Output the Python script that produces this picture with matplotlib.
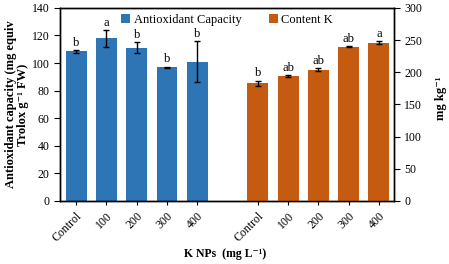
import numpy as np
import matplotlib.pyplot as plt

plt.rcParams['font.family'] = ['Liberation Serif', 'DejaVu Serif']

# --- Data ---
doses = ["Control", "100", "200", "300", "400"]
antiox = [108.5, 118, 111, 97, 101]
antiox_err = [1, 6, 4, 0.5, 15]
antiox_letters = ["b", "a", "b", "b", "b"]
potassium = [183, 194, 204, 240, 246]
potassium_err = [4, 2, 2, 1, 2]
k_letters = ["b", "ab", "ab", "ab", "a"]

blue = "#2E75B6"
orange = "#C55A11"

# --- Figure ---
fig = plt.figure(figsize=(4.49, 2.64), dpi=100)
ax = fig.add_axes([0.134, 0.239, 0.7435, 0.731])
ax2 = ax.twinx()

x1 = np.arange(len(doses))
x2 = x1 + len(doses) + 1
w = 0.69

b1 = ax.bar(x1, antiox, w, color=blue, label="Antioxidant Capacity", zorder=2)
ax.errorbar(x1, antiox, yerr=antiox_err, fmt="none", ecolor="black",
            elinewidth=1, capsize=2.5, capthick=1, zorder=3)
b2 = ax2.bar(x2, potassium, w, color=orange, label="Content K", zorder=2)
ax2.errorbar(x2, potassium, yerr=potassium_err, fmt="none", ecolor="black",
             elinewidth=1, capsize=2.5, capthick=1, zorder=3)

# significance letters
for xi, v, e, t in zip(x1, antiox, antiox_err, antiox_letters):
    ax.text(xi, v + e + 1, t, ha="center", va="bottom", fontsize=9)
for xi, v, e, t in zip(x2, potassium, potassium_err, k_letters):
    ax2.text(xi, v + e + 2, t, ha="center", va="bottom", fontsize=9)

# --- Axes ---
ax.set_xlim(-0.53, 10.5)
ax.set_ylim(0, 140)
ax.set_yticks(np.arange(0, 141, 20))
ax2.set_ylim(0, 300)
ax2.set_yticks(np.arange(0, 301, 50))

ax.set_xticks(np.concatenate([x1, x2]))
ax.set_xticklabels(doses + doses, rotation=45, ha="right", rotation_mode="anchor",
                   fontsize=8.5)
ax.tick_params(axis="y", labelsize=8.5, direction="out", length=4)
ax2.tick_params(axis="y", labelsize=8.5, direction="out", length=4)
ax.tick_params(axis="x", length=3)

ax.set_ylabel("Antioxidant capacity (mg equiv\nTrolox g\u207b\u00b9 FW)",
              fontsize=9, fontweight="bold", linespacing=1.0)
ax.yaxis.set_label_coords(-0.092, 0.50)
ax2.set_ylabel("mg kg\u207b\u00b9", fontsize=9, fontweight="bold")
ax2.yaxis.set_label_coords(1.122, 0.53)
ax.set_xlabel("K NPs  (mg L\u207b\u00b9)", fontsize=8.5, fontweight="bold")
ax.xaxis.set_label_coords(0.494, -0.245)

for a in (ax, ax2):
    for s in a.spines.values():
        s.set_linewidth(1)

ax.legend([b1, b2], ["Antioxidant Capacity", "Content K"], loc="upper center",
          ncol=2, frameon=False, fontsize=9, handlelength=0.7, handleheight=0.7,
          columnspacing=2.2, handletextpad=0.3, borderaxespad=0.1,
          bbox_to_anchor=(0.5, 1.0))

fig.savefig("out.png", dpi=100)
